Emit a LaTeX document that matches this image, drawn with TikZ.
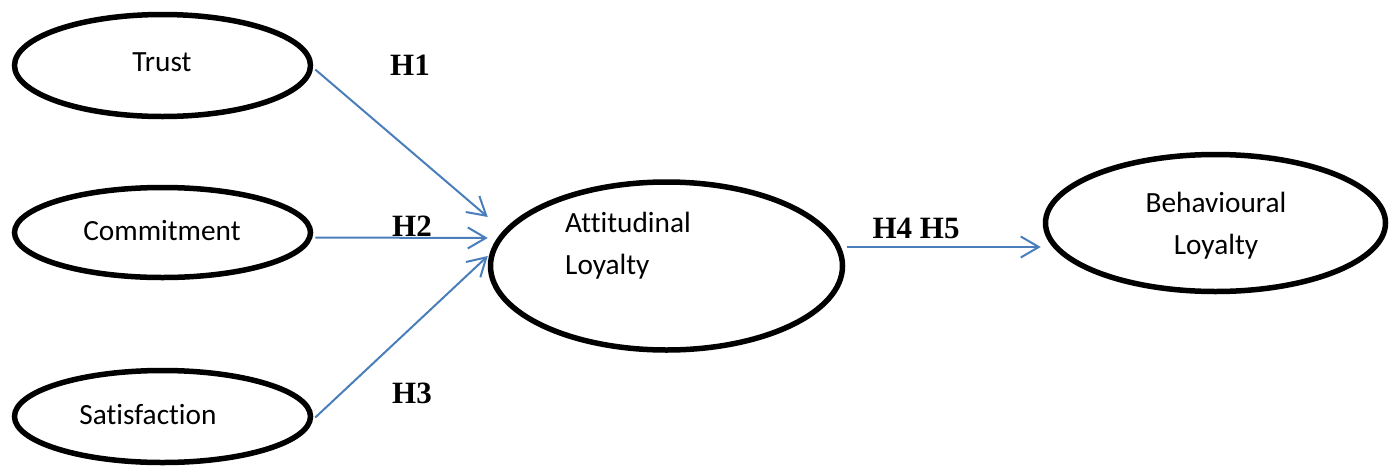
\documentclass[tikz,border=0pt]{standalone}
\usepackage{fontspec}
\setmainfont{Carlito}[Ligatures={NoCommon}]
\newfontfamily\hfont{Liberation Serif}
\usetikzlibrary{shapes.geometric,arrows.meta}
\definecolor{linkblue}{RGB}{74,126,187}
\begin{document}
\begin{tikzpicture}[x=1pt,y=-1pt,
  construct/.style={draw=black,line width=5.5pt,ellipse,inner sep=0pt},
  lbl/.style={font=\fontsize{29.3}{42}\selectfont,inner sep=0pt,align=left},
  hyp/.style={font=\hfont\bfseries\fontsize{31}{36}\selectfont,inner sep=0pt},
  link/.style={draw=linkblue,line width=2pt,-{Straight Barb[length=18pt,width=21pt,line width=2pt]}}
]
\useasboundingbox (0,0) rectangle (1389,469);
\node[construct,minimum width=296pt,minimum height=102pt] (trust) at (162.5,65.5) {};
\node[construct,minimum width=296pt,minimum height=90pt] (comm) at (162.5,232.5) {};
\node[construct,minimum width=296pt,minimum height=92pt] (sat) at (162.5,416.5) {};
\node[construct,minimum width=352pt,minimum height=168pt] (att) at (666.5,266) {};
\node[construct,minimum width=340pt,minimum height=137pt] (beh) at (1215.5,223) {};

\node[lbl] (ttrust) at (162,62) {Trust};
\node[lbl] (tcomm) at (162,231) {Commitment};
\node[lbl] (tsat) at (148,415) {Satisfaction};
\node[lbl,anchor=west] (tatt) at (565,246) {Attitudinal\\Loyalty};
\node[lbl,align=center] (tbeh) at (1216,226) {Behavioural\\Loyalty};

\node[hyp] (h1) at (410,65) {H1};
\node[hyp] (h2) at (412,226) {H2};
\node[hyp] (h3) at (412,393) {H3};
\node[hyp] (h45) at (916,228) {H4 H5};

\draw[link] ([xshift=2pt,yshift=-4pt]trust.east) -- ([yshift=49pt]att.west);
\draw[link] ([xshift=2pt,yshift=-5pt]comm.east) -- ([yshift=28pt]att.west);
\draw[link] ([xshift=2pt,yshift=-1pt]sat.east) -- ([yshift=10pt]att.west);
\draw[link] ([xshift=2pt,yshift=19pt]att.east) -- ([xshift=-2pt,yshift=-24pt]beh.west);
\end{tikzpicture}
\end{document}
